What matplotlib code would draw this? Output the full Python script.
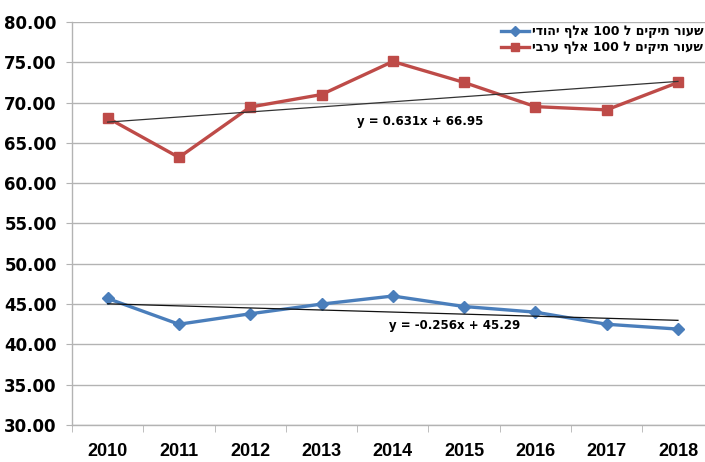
import matplotlib
matplotlib.use("Agg")
import matplotlib.pyplot as plt
import numpy as np

years = ["2010", "2011", "2012", "2013", "2014", "2015", "2016", "2017", "2018"]
jewish = [45.7, 42.5, 43.8, 45.0, 46.0, 44.7, 44.0, 42.5, 41.9]
arab = [68.1, 63.2, 69.45, 71.0, 75.1, 72.5, 69.5, 69.1, 72.5]
label_jewish = "שעור תיקים ל 100 אלף יהודי"
label_arab = "שעור תיקים ל 100 אלף ערבי"
trend_arab = (0.631, 66.95)
trend_jewish = (-0.256, 45.29)
yticks = [30, 35, 40, 45, 50, 55, 60, 65, 70, 75, 80]


def visual(s):
    out = []
    for tok in s.split(" ")[::-1]:
        out.append(tok if tok.isdigit() else tok[::-1])
    return " ".join(out)


fig = plt.figure(figsize=(7.05, 4.62), dpi=100)
ax = fig.add_axes([72 / 705, 37 / 462, (713.6 - 72) / 705, (425 - 22) / 462])

x = np.arange(len(years))
blue = "#4a7ebb"
red = "#be4b48"
grid = "#b3b3b3"

ax.plot(x, jewish, color=blue, lw=2.4, marker="D", ms=6, mfc=blue, mec=blue,
        label=visual(label_jewish), zorder=3)
ax.plot(x, arab, color=red, lw=2.4, marker="s", ms=7.3, mfc=red, mec=red,
        label=visual(label_arab), zorder=3)

xt = x + 1
ax.plot(x, trend_arab[0] * xt + trend_arab[1], color="#333333", lw=0.9, zorder=4)
ax.plot(x, trend_jewish[0] * xt + trend_jewish[1], color="#111111", lw=0.9, zorder=4)

ax.text(4.38, 67.7, "y = %.3fx + %.2f" % trend_arab, ha="center", va="center",
        fontsize=8.5, fontweight="bold", family="DejaVu Sans")
ax.text(4.87, 42.3, "y = %.3fx + %.2f" % trend_jewish, ha="center", va="center",
        fontsize=8.5, fontweight="bold", family="DejaVu Sans")

ax.set_xlim(-0.5, len(years) - 0.5)
ax.set_ylim(30, 80)
ax.set_yticks(yticks)
ax.set_yticklabels(["%.2f" % v for v in yticks], fontsize=12, fontweight="bold",
                   family="DejaVu Sans")
ax.set_xticks(x)
ax.set_xticklabels(years, fontsize=13, fontweight="bold", family="Liberation Sans")
ax.set_xticks(np.arange(len(years) + 1) - 0.5, minor=True)
ax.tick_params(axis="x", which="major", length=0, pad=13)
ax.tick_params(axis="x", which="minor", length=5, color=grid, direction="out")
ax.tick_params(axis="y", length=4, color=grid, direction="out", pad=7)
ax.yaxis.grid(True, color=grid, lw=1)
ax.set_axisbelow(True)
for s in ["top", "right"]:
    ax.spines[s].set_visible(False)
for s in ["left", "bottom"]:
    ax.spines[s].set_color(grid)
    ax.spines[s].set_linewidth(1)

leg = fig.legend(loc="upper right", bbox_to_anchor=(1.0, 0.948), frameon=False,
                 prop={"family": "DejaVu Sans", "weight": "bold", "size": 9},
                 handlelength=2.2, handletextpad=0.3, labelspacing=0.25,
                 borderaxespad=0.0, borderpad=0.1, markerscale=0.85)

fig.savefig("out.png", dpi=100)
